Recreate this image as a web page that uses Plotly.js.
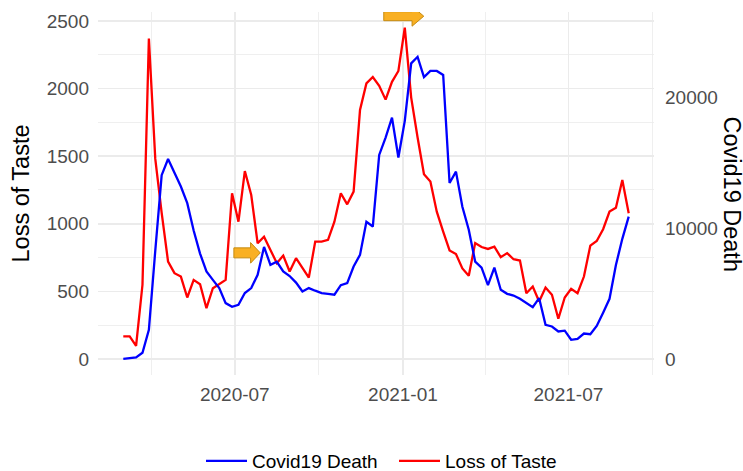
<!DOCTYPE html>
<html>
<head>
<meta charset="utf-8">
<script src="https://cdn.plot.ly/plotly-3.0.1.min.js"></script>
<style>html,body{margin:0;padding:0;background:#fff;}#chart{width:743px;height:471px;}</style>
</head>
<body>
<div id="chart"></div>
<script>
// Weekly series, first week 2020-03-01, 80 weeks
const startDate = '2020-03-01';
const nWeeks = 80;

// Loss of Taste (left axis)
const lossOfTaste = [
  167, 167, 98, 549, 2370, 1480, 1080, 721, 635, 610,
  455, 585, 553, 376, 524, 553, 585, 1226, 1016, 1390,
  1213, 856, 905, 807, 709, 765, 647, 746, 672, 602,
  868, 868, 881, 1016, 1226, 1144, 1238, 1841, 2038, 2085,
  2020, 1918, 2050, 2130, 2450, 1933, 1638, 1367, 1313, 1090,
  942, 803, 776, 670, 616, 858, 828, 814, 831, 753,
  783, 738, 728, 487, 536, 425, 529, 475, 298, 455,
  519, 487, 610, 839, 873, 960, 1090, 1119, 1324, 1078
];

// Covid19 Death (right axis)
const covidDeath = [
  20, 60, 120, 480, 2240, 8300, 14070, 15310, 14280, 13200,
  11930, 9830, 8070, 6700, 6060, 5430, 4280, 4000, 4150, 5050,
  5430, 6450, 8580, 7210, 7440, 6700, 6350, 5850, 5170, 5430,
  5230, 5050, 4990, 4920, 5650, 5810, 7080, 7970, 10500, 10140,
  15620, 16950, 18480, 15420, 18230, 22630, 23130, 21580, 22050, 22050,
  21740, 13470, 14340, 11650, 9900, 7460, 7000, 5650, 7000, 5300,
  4990, 4860, 4610, 4280, 3970, 4660, 2620, 2490, 2110, 2170,
  1475, 1550, 1950, 1900, 2530, 3550, 4610, 7200, 9200, 10900
];

const leftTicks = [0, 500, 1000, 1500, 2000, 2500];
const rightTicks = [0, 10000, 20000];
const rightTickText = ['0', '10000', '20000'];
const secAxisFactor = 10.35;

// Build dates
const dates = [];
const d0 = new Date(startDate + 'T00:00:00Z');
for (let i = 0; i < nWeeks; i++) {
  const d = new Date(d0.getTime() + i * 7 * 86400000);
  dates.push(d.toISOString().slice(0, 10));
}

const yRange = [-118, 2566];
const y2Range = [yRange[0] * secAxisFactor, yRange[1] * secAxisFactor];

const font = 'Liberation Sans, Arial, sans-serif';

const traces = [
  {x: dates, y: covidDeath, yaxis: 'y2', type: 'scatter', mode: 'lines', name: 'Covid19 Death',
   line: {color: '#0000FF', width: 2.3}},
  {x: dates, y: lossOfTaste, yaxis: 'y', type: 'scatter', mode: 'lines', name: 'Loss of Taste',
   line: {color: '#FF0000', width: 2.3}}
];

function arrowPath(len, bodyLen, bh, hh) {
  return `M0,${-bh} L${bodyLen},${-bh} L${bodyLen},${-hh} L${len},0 L${bodyLen},${hh} L${bodyLen},${bh} L0,${bh} Z`;
}

const layout = {
  width: 743, height: 471,
  margin: {l: 98, r: 89, t: 12, b: 96},
  paper_bgcolor: '#fff', plot_bgcolor: '#fff',
  font: {family: font, color: '#000'},
  showlegend: true,
  legend: {orientation: 'h', xref: 'container', yref: 'container',
           x: 201 / 743, xanchor: 'left', y: 10 / 471, yanchor: 'middle',
           itemwidth: 41, entrywidth: 137,
           font: {family: font, size: 19, color: '#000'}, traceorder: 'normal'},
  xaxis: {
    type: 'date', range: ['2020-02-02 08:00', '2021-10-02 16:00'],
    tick0: '2020-01-01', dtick: 'M6', tickformat: '%Y-%m',
    showgrid: true, gridcolor: '#EBEBEB', gridwidth: 1.6,
    minor: {tick0: '2020-01-01', dtick: 'M3', showgrid: true, gridcolor: '#EBEBEB', gridwidth: 0.8},
    zeroline: false, showline: false, ticks: '',
    tickfont: {family: font, size: 19, color: '#4D4D4D'},
    ticklabelstandoff: 6, automargin: false
  },
  yaxis: {
    range: yRange, tickvals: leftTicks,
    showgrid: true, gridcolor: '#EBEBEB', gridwidth: 1.6,
    minor: {dtick: 250, tick0: 0, showgrid: true, gridcolor: '#EBEBEB', gridwidth: 0.8},
    zeroline: false, showline: false, ticks: '',
    tickfont: {family: font, size: 19, color: '#4D4D4D'},
    ticklabelstandoff: 8,
    title: {text: 'Loss of Taste', font: {family: font, size: 23.5, color: '#000'}, standoff: 10},
    automargin: false
  },
  yaxis2: {
    overlaying: 'y', side: 'right', range: y2Range,
    tickvals: rightTicks, ticktext: rightTickText,
    showgrid: false, zeroline: false, showline: false, ticks: '',
    tickfont: {family: font, size: 19, color: '#4D4D4D'},
    ticklabelstandoff: 10, automargin: false
  },
  annotations: [
    {text: 'Covid19 Death', xref: 'paper', yref: 'paper', x: 1 + (732 - 654) / 556, y: 0.5,
     xanchor: 'center', yanchor: 'middle', textangle: 90, showarrow: false,
     font: {family: font, size: 23.5, color: '#000'}}
  ],
  shapes: [
    {type: 'path', xref: 'x', yref: 'y', xsizemode: 'pixel', ysizemode: 'pixel',
     xanchor: '2020-06-30', yanchor: 785, path: arrowPath(26.4, 16.7, 5, 10.3),
     fillcolor: '#F9B023', line: {color: '#C58B12', width: 1}, layer: 'above'},
    {type: 'path', xref: 'x', yref: 'y', xsizemode: 'pixel', ysizemode: 'pixel',
     xanchor: '2020-12-11', yanchor: 2535, path: arrowPath(40, 28.3, 4.5, 10),
     fillcolor: '#F9B023', line: {color: '#C58B12', width: 1}, layer: 'above'}
  ]
};

Plotly.newPlot('chart', traces, layout, {displayModeBar: false, staticPlot: true});
</script>
</body>
</html>
